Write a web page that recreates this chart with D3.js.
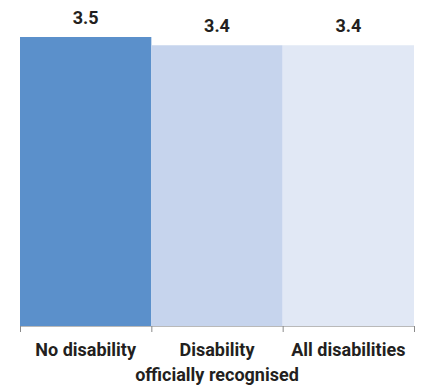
<!DOCTYPE html>
<html><head><meta charset="utf-8">
<script src="https://cdn.jsdelivr.net/npm/d3@7"></script>
<style>body{margin:0;background:#fff;}</style>
</head><body>
<svg id="chart" width="430" height="390"></svg>
<script>
const categories = ["No disability", "Disability\nofficially recognised", "All disabilities"];
const values = [3.5, 3.4, 3.4];
const colors = ["#5b90cb", "#c6d4ed", "#e1e8f5"];

const svg = d3.select("#chart");
const x = d3.scaleBand().domain(categories).range([20, 414]).padding(0);
const y = d3.scaleLinear().domain([0, 3.5]).range([326, 37]);
const FONT = "Roboto, 'Open Sans', sans-serif";

svg.selectAll("rect.bar").data(values).join("rect")
  .attr("class", "bar")
  .attr("x", (d, i) => x(categories[i]))
  .attr("width", x.bandwidth())
  .attr("y", d => y(d))
  .attr("height", d => y(0) - y(d))
  .attr("fill", (d, i) => colors[i]);

svg.selectAll("text.val").data(values).join("text")
  .attr("class", "val")
  .attr("x", (d, i) => x(categories[i]) + x.bandwidth() / 2)
  .attr("y", d => y(d) - 13)
  .attr("text-anchor", "middle")
  .attr("font-family", FONT)
  .attr("font-weight", "bold")
  .attr("font-size", 18)
  .attr("fill", "#231f20")
  .text(d => d.toFixed(1));

const g = svg.append("g").attr("transform", "translate(0,326)");
const edges = [20].concat(categories.map(c => x(c) + x.bandwidth()));
g.selectAll("line.edge").data(edges).join("line")
  .attr("class", "edge")
  .attr("x1", d => d + 0.5).attr("x2", d => d + 0.5)
  .attr("y1", 0).attr("y2", 6)
  .attr("stroke", "#8a8a8a");
g.append("line").attr("x1", 20).attr("x2", 414.5).attr("y1", 0.5).attr("y2", 0.5).attr("stroke", "#8a8a8a").attr("stroke-width", 0.6);

categories.forEach((c, i) => {
  const lines = c.split("\n");
  const cx = x(c) + x.bandwidth() / 2;
  const t = svg.append("text")
    .attr("x", cx)
    .attr("y", 356)
    .attr("text-anchor", "middle")
    .attr("font-family", FONT)
    .attr("font-weight", "bold")
    .attr("font-size", 18)
    .attr("fill", "#231f20");
  lines.forEach((l, j) => {
    t.append("tspan").attr("x", cx).attr("dy", j === 0 ? 0 : 25).text(l);
  });
});
</script>
</body></html>
